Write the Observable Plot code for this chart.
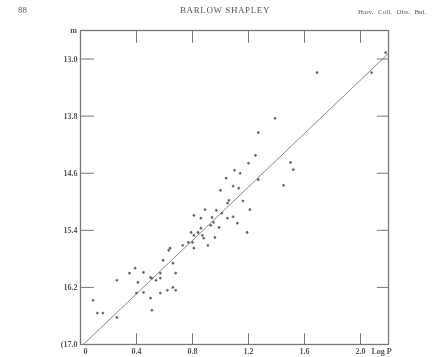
<!DOCTYPE html>
<html>
<head>
<meta charset="utf-8">
<script src="https://cdn.jsdelivr.net/npm/d3@7"></script>
<script src="https://cdn.jsdelivr.net/npm/@observablehq/plot@0.6"></script>
<style>
  body { margin: 0; background: #fff; }
  #wrap { position: relative; width: 439px; height: 357px; overflow: hidden; font-family: "Liberation Serif", "DejaVu Serif", serif; color: #555; }
  .hdr { position: absolute; z-index: 5; top: 5px; font-size: 9px; white-space: nowrap; filter: blur(0.4px); }
  #chart { position: absolute; left: 0; top: 0; z-index: 1; }
  svg { filter: blur(0.35px); }
</style>
</head>
<body>
<div id="wrap">
  <div id="chart"></div>
  <div class="hdr" style="left:18px;">88</div>
  <div class="hdr" style="left:180px; letter-spacing:0.6px;">BARLOW SHAPLEY</div>
  <div class="hdr" style="left:358px; font-size:7px; top:8px; word-spacing:3px;">Harv. Coll. Obs. Bul.</div>
</div>
<script>
// log period values
const logP = [1.69, 2.08, 1.39, 1.27, 1.25, 1.20, 1.10, 1.14, 1.50, 1.52,
  1.04, 1.27, 1.09, 1.13, 1.00, 1.45, 1.06, 1.16, 1.05, 1.21,
  0.89, 0.97, 1.01, 0.81, 0.94, 1.09, 0.86, 1.05, 0.95, 1.12,
  0.93, 0.99, 0.79, 0.84, 0.86, 0.81, 0.87, 1.19, 0.96, 0.88,
  0.77, 0.80, 0.73, 0.91, 0.64, 0.81, 0.63, 0.59, 0.66, 0.68,
  0.57, 0.57, 0.51, 0.68, 0.57, 0.66, 0.62, 0.39, 0.35, 0.45,
  0.26, 0.41, 0.50, 0.54, 0.40, 0.45, 0.50, 0.09, 0.51, 0.12,
  0.16, 0.26, 2.18];
// apparent magnitudes
const mag = [13.19, 13.19, 13.83, 14.03, 14.35, 14.46, 14.56, 14.60, 14.45, 14.55,
  14.67, 14.69, 14.78, 14.81, 14.84, 14.77, 14.98, 14.99, 15.02, 15.11,
  15.11, 15.12, 15.16, 15.19, 15.22, 15.21, 15.23, 15.23, 15.29, 15.30,
  15.33, 15.36, 15.43, 15.43, 15.37, 15.47, 15.47, 15.43, 15.50, 15.51,
  15.57, 15.57, 15.61, 15.61, 15.65, 15.65, 15.68, 15.82, 15.86, 16.00,
  16.00, 16.07, 16.07, 16.24, 16.28, 16.20, 16.24, 15.93, 16.00, 15.99,
  16.10, 16.13, 16.06, 16.10, 16.28, 16.27, 16.35, 16.38, 16.52, 16.56,
  16.56, 16.62, 12.91];
// fitted line endpoints (log P, m)
const lineP = [0.02, 2.2];
const lineM = [17.0, 12.92];
// tick values and labels
const xTicks = [0, 0.4, 0.8, 1.2, 1.6, 2.0];
const xTickLabels = ["0", "0.4", "0.8", "1.2", "1.6", "2.0"];
const yTicks = [13.0, 13.8, 14.6, 15.4, 16.2, 17.0];
const yTickLabels = ["13.0", "13.8", "14.6", "15.4", "16.2", "(17.0"];

const pts = logP.map((p, i) => ({p, m: mag[i]}));
const line = lineP.map((p, i) => ({p, m: lineM[i]}));
const xT = xTicks.map((v, i) => ({v, label: xTickLabels[i]}));
const yT = yTicks.map((v, i) => ({v, label: yTickLabels[i]}));

const ink = "#777";
const lab = {fontWeight: "bold", fill: "#555"};
const chart = Plot.plot({
  width: 439,
  height: 357,
  marginLeft: 80,
  marginRight: 51,
  marginTop: 30,
  marginBottom: 13,
  x: {domain: [0, 2.2], axis: null},
  y: {domain: [17.0, 12.6], axis: null},
  style: {fontFamily: "'Liberation Serif', 'DejaVu Serif', serif", fontSize: "8px", color: "#444", background: "#fff"},
  marks: [
    Plot.frame({stroke: ink, strokeWidth: 1.3}),
    // bottom ticks (inward)
    Plot.ruleX(xTicks.slice(1), {x: d => d, y1: 17.0, y2: 16.85, stroke: ink}),
    // top ticks (inward)
    Plot.ruleX(xTicks.slice(1), {x: d => d, y1: 12.6, y2: 12.78, stroke: ink}),
    // left ticks (inward)
    Plot.ruleY(yTicks.slice(0, -1), {y: d => d, x1: 0, x2: 0.1, stroke: ink}),
    // right ticks (inward)
    Plot.ruleY(yTicks.slice(0, -1), {y: d => d, x1: 2.2, x2: 2.12, stroke: ink}),
    Plot.line(line, {x: "p", y: "m", stroke: "#888", strokeWidth: 1}),
    Plot.dot(pts, {x: "p", y: "m", r: 1.1, fill: "#555", stroke: "#777", strokeWidth: 0.6}),
    Plot.text(yT, {x: 0, y: "v", text: "label", dx: -3, textAnchor: "end", ...lab}),
    Plot.text(xT.slice(0, 1), {x: "v", y: 17.0, text: "label", dx: 5, dy: 7, textAnchor: "middle", ...lab}),
    Plot.text(xT.slice(1), {x: "v", y: 17.0, text: "label", dy: 7, textAnchor: "middle", ...lab}),
    Plot.text(["Log P"], {x: 2.0, y: 17.0, text: d => d, dx: 11, dy: 7, textAnchor: "start", ...lab}),
    Plot.text(["m"], {x: 0, y: 12.6, text: d => d, dx: -7, dy: 0, textAnchor: "middle", ...lab})
  ]
});
document.getElementById("chart").appendChild(chart);
</script>
</body>
</html>
